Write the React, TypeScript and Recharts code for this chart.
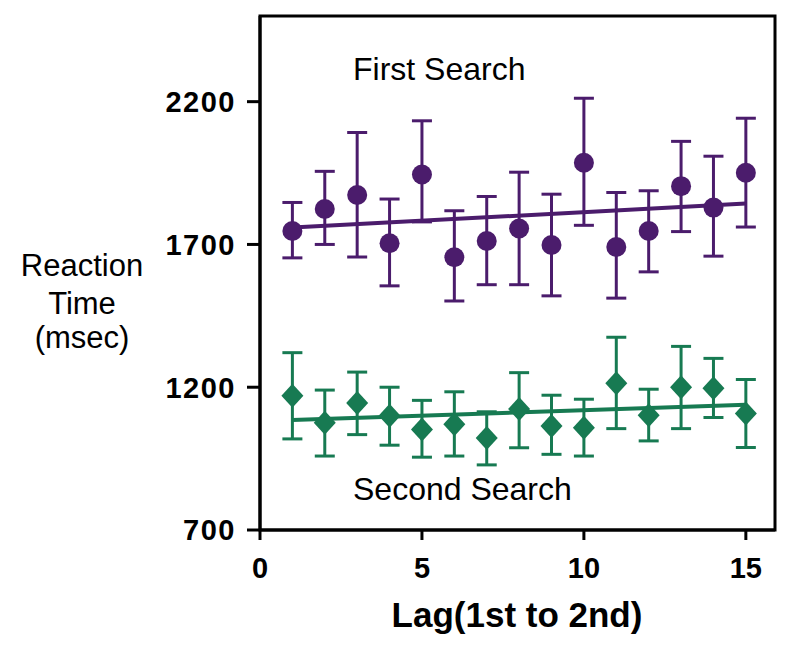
import { ComposedChart, Scatter, ErrorBar, XAxis, YAxis, ReferenceArea } from "recharts";

const PURPLE = "#4b1c6c";
const GREEN = "#177a52";
const FONT = "'Liberation Sans', Arial, Helvetica, sans-serif";

const lags = [1, 2, 3, 4, 5, 6, 7, 8, 9, 10, 11, 12, 13, 14, 15];

const firstMean = [1747, 1824, 1873, 1704, 1945, 1655, 1712, 1756, 1698, 1986, 1691, 1747, 1904, 1829, 1951];
const firstHigh = [1847, 1956, 2092, 1859, 2133, 1818, 1868, 1953, 1876, 2212, 1882, 1888, 2061, 2009, 2142];
const firstLow = [1653, 1700, 1656, 1555, 1779, 1502, 1559, 1559, 1520, 1767, 1512, 1604, 1745, 1659, 1761];

const secondMean = [1170, 1076, 1145, 1100, 1052, 1070, 1022, 1124, 1064, 1058, 1214, 1102, 1200, 1196, 1108];
const secondHigh = [1321, 1190, 1253, 1200, 1154, 1184, 1114, 1251, 1172, 1158, 1375, 1193, 1343, 1301, 1227];
const secondLow = [1019, 959, 1034, 997, 955, 959, 928, 988, 965, 959, 1055, 1012, 1055, 1094, 989];

// fitted trend lines, end points at lag 1 and lag 15
const fitLags = [1, 15];
const firstFit = [1759, 1843];
const secondFit = [1085, 1139];

const xTicks = [0, 5, 10, 15];
const yTicks = [700, 1200, 1700, 2200];

const series = (mean: number[], low: number[], high: number[]) =>
  lags.map((x, i) => ({ x, y: mean[i], err: [mean[i] - low[i], high[i] - mean[i]] }));

const line = (ys: number[]) => fitLags.map((x, i) => ({ x, y: ys[i] }));

const firstData = series(firstMean, firstLow, firstHigh);
const secondData = series(secondMean, secondLow, secondHigh);

const Dot = (p: any) => <circle cx={p.cx} cy={p.cy} r={10} fill={PURPLE} />;
const Diamond = (p: any) => (
  <polygon
    points={`${p.cx},${p.cy - 12} ${p.cx + 11},${p.cy} ${p.cx},${p.cy + 12} ${p.cx - 11},${p.cy}`}
    fill={GREEN}
  />
);
const NoDot = () => <g />;

const tick = { fontSize: 29, fontWeight: 700, fill: "#000", fontFamily: FONT };

export default function App() {
  return (
    <div style={{ position: "absolute", left: 0, top: 0, width: 799, height: 645, background: "#fff" }}>
      <ComposedChart width={799} height={645} margin={{ top: 16, right: 24, left: 180, bottom: 85 }}>
        <XAxis
          dataKey="x"
          type="number"
          domain={[0, 15.9]}
          ticks={xTicks}
          allowDataOverflow
          height={30}
          tick={tick}
          tickSize={10}
          tickMargin={17}
          axisLine={{ stroke: "#000", strokeWidth: 3 }}
          tickLine={{ stroke: "#000", strokeWidth: 3 }}
        />
        <YAxis
          type="number"
          domain={[700, 2500]}
          ticks={yTicks}
          allowDataOverflow
          width={80}
          tick={{ ...tick, letterSpacing: 1.5 }}
          tickSize={13}
          tickMargin={11}
          axisLine={{ stroke: "#000", strokeWidth: 3 }}
          tickLine={{ stroke: "#000", strokeWidth: 3 }}
        />
        <ReferenceArea x1={0} x2={15.9} y1={700} y2={2500} fill="none" stroke="#000" strokeWidth={3} />
        <Scatter data={line(firstFit)} dataKey="y" line={{ stroke: PURPLE, strokeWidth: 4 }} shape={NoDot} isAnimationActive={false} />
        <Scatter data={line(secondFit)} dataKey="y" line={{ stroke: GREEN, strokeWidth: 4 }} shape={NoDot} isAnimationActive={false} />
        <Scatter data={firstData} dataKey="y" shape={Dot} isAnimationActive={false}>
          <ErrorBar dataKey="err" direction="y" width={10} stroke={PURPLE} strokeWidth={3} isAnimationActive={false} />
        </Scatter>
        <Scatter data={secondData} dataKey="y" shape={Diamond} isAnimationActive={false}>
          <ErrorBar dataKey="err" direction="y" width={10} stroke={GREEN} strokeWidth={3} isAnimationActive={false} />
        </Scatter>
      </ComposedChart>
      <svg width={799} height={645} style={{ position: "absolute", left: 0, top: 0, pointerEvents: "none" }}>
        <g fontFamily={FONT} fill="#000">
          <text x={353} y={80} fontSize={32}>First Search</text>
          <text x={353} y={500} fontSize={32}>Second Search</text>
          <text x={82} y={276} fontSize={31} textAnchor="middle">Reaction</text>
          <text x={82} y={314} fontSize={31} textAnchor="middle">Time</text>
          <text x={82} y={348} fontSize={31} textAnchor="middle">(msec)</text>
          <text x={517} y={627} fontSize={35} fontWeight={700} textAnchor="middle">Lag(1st to 2nd)</text>
        </g>
      </svg>
    </div>
  );
}
